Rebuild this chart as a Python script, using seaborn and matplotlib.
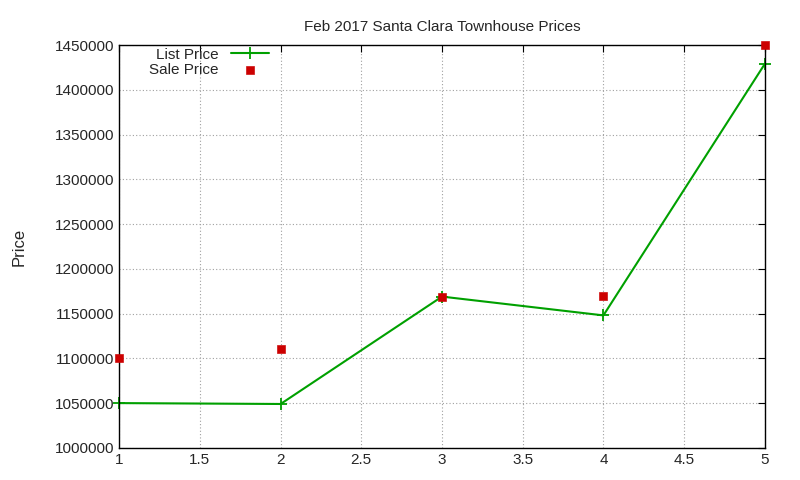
import matplotlib
matplotlib.use("Agg")
import matplotlib.pyplot as plt
import seaborn as sns
import pandas as pd

x = [1, 2, 3, 4, 5]
list_price = [1050000, 1049000, 1169000, 1148000, 1429000]
sale_price = [1100000, 1110000, 1169000, 1170000, 1450000]

sns.set_style("white")
plt.rcParams['font.family'] = ['Liberation Sans', 'DejaVu Sans']
fig = plt.figure(figsize=(8, 4.8), dpi=100)
ax = fig.add_axes([0.149, 0.067, 0.807, 0.839])
df = pd.DataFrame({"x": x, "list": list_price, "sale": sale_price})
sns.lineplot(data=df, x="x", y="list", ax=ax, color="#00a000", marker="+",
             markersize=8, markeredgewidth=1.3, markeredgecolor="#00a000",
             linewidth=1.5, label="List Price", clip_on=False)
sns.scatterplot(data=df, x="x", y="sale", ax=ax, color="#cc0000", marker="s",
                s=30, edgecolor="#cc0000", label="Sale Price", zorder=5, clip_on=False)
ax.set_xlim(1, 5)
ax.set_ylim(1000000, 1450000)
ax.set_xticks([1, 1.5, 2, 2.5, 3, 3.5, 4, 4.5, 5])
ax.set_xticklabels(["1", "1.5", "2", "2.5", "3", "3.5", "4", "4.5", "5"])
ax.set_yticks(range(1000000, 1450001, 50000))
ax.set_yticklabels([str(v) for v in range(1000000, 1450001, 50000)])
ax.grid(True, color="#a0a0a0", linestyle=(0, (1, 2)), linewidth=0.8)
for s in ax.spines.values():
    s.set_color("black"); s.set_linewidth(1)
ax.tick_params(direction="in", length=5, labelsize=11, top=True, right=True, color="black")
ax.set_xlabel("")
ax.set_ylabel("Price", fontsize=12, labelpad=20)
ax.set_title("Feb 2017 Santa Clara Townhouse Prices", fontsize=11, pad=10)
ax.legend(loc="upper left", bbox_to_anchor=(0.03, 1.02), markerfirst=False, frameon=False,
          fontsize=11, handlelength=2.5, borderaxespad=0.3, labelspacing=0.05)
fig.savefig("out.png", dpi=100)
